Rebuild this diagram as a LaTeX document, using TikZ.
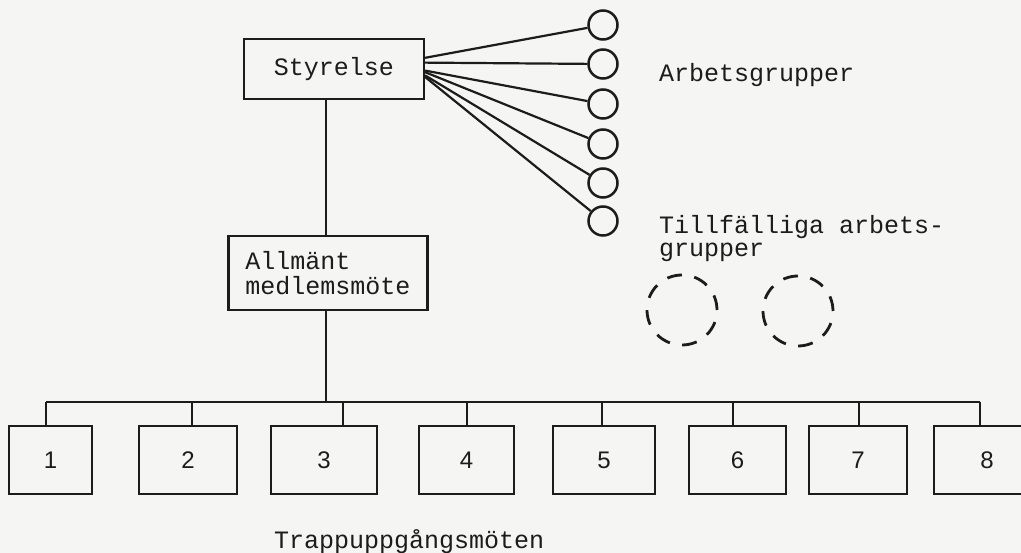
\documentclass[tikz,border=0pt]{standalone}
\usepackage{fontspec}
\setmainfont{Liberation Sans}
\setmonofont{Liberation Mono}
\usepackage{tikz}
\definecolor{InkBlack}{RGB}{28,28,28}
\definecolor{PaperWhite}{RGB}{245,245,243}

\begin{document}
\begin{tikzpicture}[x=1pt, y=-1pt, line width=2.2pt, color=InkBlack,
    orgbox/.style={draw, rectangle, inner sep=0pt,
      font=\ttfamily\fontsize{25}{25}\selectfont},
    room/.style={draw, rectangle, inner sep=0pt, minimum height=68pt,
      anchor=north west, font=\fontsize{24}{24}\selectfont},
    grupp/.style={draw, circle, inner sep=0pt, minimum size=29pt, line width=2.5pt},
    tillf/.style={draw, circle, inner sep=0pt, minimum size=70pt, line width=2.8pt,
      dash pattern=on 15pt off 12.5pt},
    lbl/.style={inner sep=0pt, anchor=base west, align=left,
      font=\ttfamily\fontsize{25}{23}\selectfont}]
  \path[use as bounding box, fill=PaperWhite] (0,0) rectangle (1021,553);
  \clip (0,0) rectangle (1021,553);

  \node[orgbox, minimum width=180pt, minimum height=60pt] (sty) at (334,69) {Styrelse};
  \node[orgbox, minimum width=199pt, minimum height=74pt, align=left]
    (mote) at (328,273) {Allmänt\\medlemsmöte\hspace{6pt}};

  % arbetsgrupper
  \foreach \i/\y in {1/25,2/64,3/104,4/144,5/183,6/221}
    \node[grupp] (g\i) at (603,\y) {};
  \foreach \i/\a in {1/7,2/4,3/-1,4/-2,5/-4,6/-5}
    \draw (sty.\a) -- (g\i);
  \node[lbl] (arb) at (658,82) {Arbetsgrupper};

  % base of a two-line label sits on its last line
  \node[lbl] (tmp) at (658,257) {Tillfälliga arbets-\\grupper};
  \node[tillf] (t1) at (682,310) {};
  \node[tillf] (t2) at (798,311) {};

  % stam och trappuppgangar
  \coordinate (stam) at (326,0);
  \coordinate (bus) at (0,402);
  \draw (sty.south -| stam) -- (mote.north -| stam);
  \draw (mote.south -| stam) -- (stam |- bus);
  \foreach \n/\l/\r/\s in {1/8/91/46, 2/138/236/192, 3/270/376/343, 4/418/513/467,
                           5/552/654/602, 6/688/785/733, 7/808/906/859, 8/933/1039/980}{
    \node[room, minimum width={(\r-\l)*1pt}] (m\n) at (\l,425) {\n};
    \coordinate (s\n) at (\s,402);
    \draw (s\n) -- (s\n |- m\n.north);
  }
  \draw (s1) -- (s8);
  \node[lbl] (trapp) at (273,548) {Trappuppgångsmöten};
\end{tikzpicture}
\end{document}
